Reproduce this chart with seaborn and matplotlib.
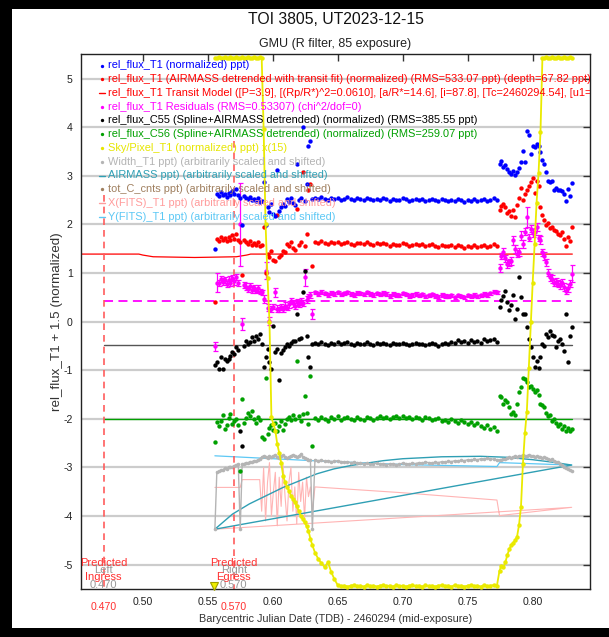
import numpy as np
import pandas as pd
import matplotlib
matplotlib.use("Agg")
import matplotlib.pyplot as plt
import seaborn as sns
from matplotlib.patches import Rectangle

sns.set_theme(style="white")
plt.rcParams['font.family'] = ['Liberation Sans', 'DejaVu Sans']
plt.rcParams['axes.unicode_minus'] = False

# ---------------- data ----------------
t_early = [0.5555, 0.5570, 0.5585, 0.5600, 0.5615, 0.5630, 0.5645, 0.5660, 0.5675, 0.5690,
           0.5705, 0.5720, 0.5735, 0.5750, 0.5765, 0.5780, 0.5795, 0.5810, 0.5825, 0.5840,
           0.5855, 0.5870, 0.5885, 0.5900, 0.5915, 0.5930, 0.5945, 0.5960, 0.5975, 0.5990,
           0.6005, 0.6020, 0.6035, 0.6050, 0.6065, 0.6080, 0.6095, 0.6110, 0.6125, 0.6140,
           0.6155, 0.6170, 0.6185, 0.6200, 0.6215, 0.6230, 0.6245, 0.6260, 0.6275, 0.6290,
           0.6305]
t_flat = [0.6325, 0.6350, 0.6375, 0.6400, 0.6425, 0.6450, 0.6475, 0.6500, 0.6525, 0.6550,
          0.6575, 0.6600, 0.6625, 0.6650, 0.6675, 0.6700, 0.6725, 0.6750, 0.6775, 0.6800,
          0.6825, 0.6850, 0.6875, 0.6900, 0.6925, 0.6950, 0.6975, 0.7000, 0.7025, 0.7050,
          0.7075, 0.7100, 0.7125, 0.7150, 0.7175, 0.7200, 0.7225, 0.7250, 0.7275, 0.7300,
          0.7325, 0.7350, 0.7375, 0.7400, 0.7425, 0.7450, 0.7475, 0.7500, 0.7525, 0.7550,
          0.7575, 0.7600, 0.7625, 0.7650, 0.7675, 0.7700, 0.7725]
t_late = [0.7745, 0.7760, 0.7775, 0.7790, 0.7805, 0.7820, 0.7835, 0.7850, 0.7865, 0.7880,
          0.7895, 0.7910, 0.7925, 0.7940, 0.7955, 0.7970, 0.7985, 0.8000, 0.8015, 0.8030,
          0.8045, 0.8060, 0.8075, 0.8090, 0.8105, 0.8120, 0.8135, 0.8150, 0.8165, 0.8180,
          0.8195, 0.8210, 0.8225, 0.8240, 0.8255, 0.8270, 0.8285, 0.8300]

blue_early = [1.50, 2.62, 2.58, 2.66, 2.60, 2.63, 2.57, 2.64, 2.60, 2.68,
              2.62, 2.73, 2.60, 2.55, 1.98, 2.58, 2.55, 2.52, 2.56, 2.50,
              2.53, 2.49, 2.55, 2.47, 2.49, 2.87, 1.98, 2.35, 2.25, 2.42,
              2.22, 2.18, 3.11, 2.28, 2.35, 2.43, 2.38, 2.52, 2.47, 2.55,
              2.45, 2.40, 3.24, 2.50, 2.55, 4.00, 2.48, 2.83, 3.62, 3.72,
              2.53]
blue_flat = [2.55, 2.52, 2.56, 2.53, 2.50, 2.54, 2.52, 2.55, 2.51, 2.53,
             2.56, 2.52, 2.50, 2.54, 2.53, 2.51, 2.55, 2.52, 2.50, 2.53,
             2.51, 2.54, 2.52, 2.49, 2.53, 2.51, 2.50, 2.54, 2.52, 2.49,
             2.51, 2.53, 2.50, 2.52, 2.49, 2.51, 2.53, 2.50, 2.48, 2.52,
             2.50, 2.49, 2.51, 2.48, 2.52, 2.50, 2.47, 2.51, 2.49, 2.52,
             2.48, 2.50, 2.53, 2.49, 2.51, 2.54, 2.50]
blue_late = [3.25, 3.31, 3.18, 3.23, 3.14, 3.07, 3.04, 3.09, 3.02, 3.07,
             3.17, 3.28, 3.52, 3.28, 3.93, 3.83, 3.45, 3.62, 3.59, 3.66,
             3.62, 3.48, 3.33, 3.24, 3.07, 2.90, 2.87, 2.90, 2.71, 2.75,
             2.70, 2.71, 2.68, 2.63, 2.49, 2.73, 2.59, 2.85]

red_early = [0.41, 1.70, 1.66, 1.75, 1.68, 1.72, 1.65, 1.74, 1.69, 1.78,
             1.71, 1.81, 1.69, 1.64, 0.95, 1.67, 1.63, 1.60, 1.65, 1.58,
             1.62, 1.57, 1.63, 1.55, 1.57, 1.95, 1.01, 1.39, 1.32, 1.46,
             1.26, 1.24, 2.19, 1.32, 1.38, 1.46, 1.43, 1.60, 1.55, 1.63,
             1.52, 1.47, 2.32, 1.58, 1.64, 3.08, 1.56, 1.80, 2.70, 2.83,
             1.15]
red_flat = [1.64, 1.61, 1.65, 1.62, 1.59, 1.63, 1.61, 1.64, 1.60, 1.62,
            1.64, 1.60, 1.58, 1.62, 1.61, 1.59, 1.63, 1.60, 1.58, 1.61,
            1.59, 1.62, 1.60, 1.56, 1.60, 1.58, 1.57, 1.61, 1.59, 1.56,
            1.58, 1.60, 1.57, 1.59, 1.55, 1.57, 1.59, 1.56, 1.54, 1.58,
            1.56, 1.55, 1.57, 1.53, 1.57, 1.55, 1.52, 1.56, 1.54, 1.57,
            1.53, 1.55, 1.58, 1.54, 1.56, 1.60, 1.55]
red_late = [2.30, 2.38, 2.43, 2.35, 2.24, 2.28, 2.18, 2.30, 2.15, 2.40,
            2.55, 2.74, 2.50, 2.62, 2.70, 2.80, 2.87, 2.95, 2.65, 2.90,
            2.80, 2.35, 2.20, 2.10, 1.98, 2.02, 1.92, 1.95, 1.88, 1.87,
            1.80, 1.78, 1.85, 1.70, 1.56, 1.75, 1.66, 1.95]

mag_early = [-0.51, 0.80, 0.80, 0.88, 0.82, 0.85, 0.78, 0.86, 0.80, 0.90,
             0.83, 0.92, 0.79, 2.00, -0.05, 0.76, 0.72, 0.68, 0.74, 0.66,
             0.70, 0.64, 0.69, 0.62, 0.60, 0.47, 1.05, 0.29, 0.02, 0.26,
             0.31, 0.60, 0.27, 0.25, 0.30, 0.26, 0.33, 0.29, 0.36, 0.43,
             0.38, 0.33, 0.40, 0.36, 0.42, 0.38, 0.91, 0.45, 0.50, 0.55,
             0.16]
mag_flat = [0.60, 0.57, 0.61, 0.58, 0.55, 0.59, 0.57, 0.60, 0.56, 0.58,
            0.60, 0.57, 0.55, 0.59, 0.58, 0.56, 0.60, 0.57, 0.55, 0.58,
            0.56, 0.59, 0.57, 0.53, 0.57, 0.55, 0.54, 0.58, 0.56, 0.53,
            0.55, 0.57, 0.54, 0.56, 0.52, 0.54, 0.56, 0.53, 0.51, 0.55,
            0.53, 0.52, 0.54, 0.50, 0.54, 0.52, 0.50, 0.54, 0.52, 0.55,
            0.52, 0.54, 0.57, 0.55, 0.58, 0.62, 0.60]
mag_late = [1.10, 1.35, 1.43, 1.30, 1.19, 1.22, 1.25, 1.67, 1.50, 1.40,
            1.43, 1.77, 1.60, 1.85, 2.15, 1.73, 1.91, 1.82, 1.85, 1.94,
            1.72, 1.68, 1.43, 1.35, 1.22, 1.01, 0.91, 0.88, 0.80, 0.82,
            0.78, 0.76, 0.80, 0.72, 0.64, 0.70, 0.78, 0.99]
mag_err_early = [0.10, 0.20, 0.06, 0.06, 0.07, 0.06, 0.06, 0.07, 0.06, 0.06,
                 0.07, 0.06, 0.06, 0.85, 0.13, 0.06, 0.07, 0.06, 0.06, 0.07,
                 0.06, 0.06, 0.07, 0.06, 0.06, 0.08, 0.17, 0.07, 0.08, 0.07,
                 0.06, 0.10, 0.07, 0.06, 0.07, 0.06, 0.07, 0.06, 0.07, 0.06,
                 0.07, 0.06, 0.07, 0.06, 0.07, 0.06, 0.17, 0.07, 0.06, 0.07,
                 0.10]
mag_err_flat = 0.035
mag_err_late = [0.08, 0.07, 0.08, 0.07, 0.08, 0.07, 0.08, 0.10, 0.08, 0.07,
                0.08, 0.10, 0.08, 0.07, 0.20, 0.08, 0.07, 0.08, 0.07, 0.08,
                0.07, 0.08, 0.07, 0.08, 0.07, 0.08, 0.07, 0.08, 0.07, 0.08,
                0.07, 0.08, 0.07, 0.08, 0.07, 0.08, 0.07, 0.17]

black_early = [-0.90, -0.82, -0.97, -0.73, -0.97, -0.76, -0.80, -0.77, -0.70, -0.63,
               -0.66, -0.53, -0.58, -2.24, -2.55, -0.50, -0.39, -0.46, -0.42, -0.32,
               -0.39, -0.30, -0.35, -0.25, -0.45, -0.94, -0.73, -0.56, -0.84, -0.97,
               -0.08, -0.62, -0.56, -1.21, -0.65, -0.58, -0.53, -0.47, -0.50, -0.44,
               -0.40, -0.39, 0.16, -0.35, -0.33, 0.60, 1.05, -0.29, -0.73, -0.94,
               -0.46]
black_flat = [-0.44, -0.47, -0.42, -0.46, -0.49, -0.43, -0.45, -0.41, -0.47, -0.44,
              -0.42, -0.46, -0.48, -0.43, -0.45, -0.47, -0.42, -0.45, -0.48, -0.44,
              -0.46, -0.43, -0.45, -0.49, -0.44, -0.46, -0.47, -0.43, -0.45, -0.48,
              -0.46, -0.44, -0.47, -0.45, -0.49, -0.46, -0.44, -0.47, -0.50, -0.45,
              -0.43, -0.46, -0.41, -0.44, -0.38, -0.42, -0.40, -0.44, -0.37, -0.41,
              -0.39, -0.43, -0.36, -0.40, -0.38, -0.35, -0.41]
black_late = [0.30, 0.45, 0.53, 0.64, 0.40, 0.23, 0.35, 0.55, 0.06, 0.25,
              0.91, 0.50, 0.16, 0.16, -0.12, -0.35, -0.53, -0.73, -0.94, -0.80,
              -0.95, -0.73, -0.46, -0.50, -0.25, -0.32, -0.20, -0.28, -0.30, -0.53,
              -0.40, -0.35, -0.45, -0.60, 0.16, -0.84, -0.30, -0.12]

green_early = [-2.48, -2.07, -2.15, -2.04, -1.93, -2.21, -2.12, -1.98, -1.90, -2.10,
               -2.05, -2.00, -2.12, -3.07, -1.59, -2.08, -1.98, -1.87, -1.95, -1.83,
               -2.00, -2.08, -1.97, -2.02, -2.38, -2.41, -1.15, -2.31, -2.18, -2.12,
               -2.22, -2.08, -2.25, -2.15, -2.05, -2.22, -2.10, -2.00, -1.96, -2.03,
               -1.93, -2.00, -0.80, -1.95, -2.05, -1.90, -1.52, -1.87, -2.10, -1.11,
               -2.55]
green_flat = [-1.98, -2.02, -1.96, -2.00, -2.04, -1.97, -2.01, -1.95, -2.03, -1.99,
              -1.96, -2.01, -2.03, -1.97, -2.00, -2.02, -1.96, -1.99, -2.03, -1.98,
              -1.95, -1.99, -1.97, -2.01, -1.96, -1.94, -1.98, -1.95, -1.99, -1.97,
              -2.00, -1.96, -1.98, -2.02, -1.97, -1.99, -2.03, -2.00, -1.98, -2.04,
              -2.02, -2.06, -2.01, -2.05, -2.08, -2.03, -2.07, -2.10, -2.06, -2.12,
              -2.09, -2.15, -2.18, -2.13, -2.21, -2.17, -2.24]
green_late = [-1.52, -1.55, -1.69, -1.62, -1.66, -1.76, -1.90, -1.85, -1.92, -1.70,
              -1.45, -1.35, -1.15, -1.18, -1.25, -1.35, -1.32, -1.38, -1.45, -1.40,
              -1.50, -1.69, -1.72, -1.75, -1.87, -1.95, -1.92, -2.04, -2.00, -2.08,
              -2.14, -2.10, -2.21, -2.15, -2.25, -2.18, -2.24, -2.21]

gray_early = [-4.27, -3.10, -3.08, -3.06, -3.05, -3.02, -3.03, -3.00, -2.98, -2.99,
              -2.96, -2.95, -2.93, -4.27, -2.93, -2.92, -2.90, -2.91, -2.88, -2.89,
              -2.86, -2.87, -2.85, -2.82, -2.79, -2.76, -2.78, -2.80, -2.77, -2.79,
              -2.76, -2.74, -2.78, -2.80, -2.77, -2.75, -2.79, -2.81, -2.78, -2.76,
              -2.74, -2.77, -2.79, -2.76, -2.73, -2.78, -2.80, -2.83, -2.85, -2.84,
              -4.27]
gray_flat = [-2.84, -2.86, -2.85, -2.87, -2.86, -2.88, -2.87, -2.86, -2.88, -2.89,
             -2.88, -2.90, -2.89, -2.91, -2.90, -2.92, -2.91, -2.93, -2.92, -2.91,
             -2.93, -2.92, -2.94, -2.93, -2.92, -2.94, -2.93, -2.91, -2.92, -2.93,
             -2.91, -2.92, -2.90, -2.91, -2.89, -2.90, -2.91, -2.89, -2.90, -2.88,
             -2.89, -2.87, -2.88, -2.86, -2.87, -2.85, -2.86, -2.84, -2.85, -2.83,
             -2.84, -2.82, -2.83, -2.81, -2.82, -2.83, -2.84]
gray_late = [-2.85, -2.84, -2.82, -2.83, -2.80, -2.79, -2.80, -2.78, -2.77, -2.79,
             -2.76, -2.77, -2.75, -2.77, -2.76, -2.74, -2.77, -2.76, -2.78, -2.77,
             -2.79, -2.78, -2.80, -2.79, -2.81, -2.82, -2.84, -2.83, -2.86, -2.88,
             -2.89, -2.92, -2.95, -2.98, -3.02, -3.04, -3.06, -3.07]

sky_early = [5.43, 5.42, 5.44, 5.43, 5.42, 5.44, 5.43, 5.42, 5.44, 5.43,
             5.42, 5.44, 5.43, 5.42, 5.44, 5.43, 5.42, 5.44, 5.43, 5.42,
             5.44, 5.43, 5.42, 5.44, 5.43, 3.97, 2.00, 0.90, 0.00, -1.97,
             -2.10, -2.24, -2.52, -2.70, -2.90, -3.17, -3.30, -3.41, -3.48, -3.58,
             -3.65, -3.72, -3.80, -3.89, -3.99, -4.06, -4.13, -4.20, -4.30, -4.47,
             -4.60]
sky_flat = [-4.75, -4.88, -4.97, -5.05, -4.95, -5.15, -5.30, -5.42, -5.44, -5.43,
            -5.45, -5.43, -5.42, -5.44, -5.43, -5.45, -5.42, -5.44, -5.43, -5.45,
            -5.43, -5.42, -5.44, -5.43, -5.45, -5.42, -5.44, -5.43, -5.45, -5.43,
            -5.42, -5.44, -5.43, -5.45, -5.42, -5.44, -5.43, -5.45, -5.43, -5.42,
            -5.44, -5.43, -5.45, -5.42, -5.44, -5.43, -5.45, -5.43, -5.42, -5.44,
            -5.43, -5.45, -5.42, -5.44, -5.43, -5.42, -5.43]
sky_late = [-5.12, -5.02, -5.05, -4.95, -4.80, -4.68, -4.60, -4.55, -4.50, -4.42,
            -4.18, -3.81, -2.92, -2.30, -1.85, -0.95, 0.00, 0.80, 1.60, 2.45,
            3.05, 3.90, 5.43, 5.42, 5.44, 5.43, 5.42, 5.44, 5.43, 5.42,
            5.44, 5.43, 5.42, 5.44, 5.43, 5.42, 5.44, 5.43]

airmass_t = [0.5555, 0.569, 0.582, 0.595, 0.608, 0.621, 0.634, 0.647, 0.660, 0.685,
             0.700, 0.730, 0.760, 0.780, 0.800, 0.815, 0.830, 0.5555]
airmass_v = [-4.27, -3.96, -3.75, -3.58, -3.41, -3.27, -3.13, -3.03, -2.96, -2.86,
             -2.82, -2.78, -2.77, -2.79, -2.84, -2.89, -2.95, -4.27]

xfits_t = [0.5555, 0.5750, 0.5765, 0.5900, 0.5915, 0.5930, 0.5945, 0.5960, 0.5975, 0.5990,
           0.6005, 0.6020, 0.6035, 0.6050, 0.6065, 0.6080, 0.6095, 0.6110, 0.6125, 0.6140,
           0.6155, 0.6170, 0.6185, 0.6200, 0.6215, 0.6230, 0.6245, 0.6260, 0.6275, 0.6290,
           0.6305, 0.6325, 0.7000, 0.7725, 0.7745, 0.8300, 0.5555]
xfits_v = [-3.41, -3.41, -3.25, -3.25, -3.90, -3.00, -4.10, -3.30, -2.90, -4.00,
           -3.50, -3.10, -4.20, -3.20, -3.80, -2.95, -3.60, -4.10, -3.30, -3.00,
           -3.90, -3.40, -4.15, -3.10, -3.70, -3.30, -4.05, -3.20, -3.60, -3.40,
           -3.90, -3.40, -3.52, -3.67, -3.99, -3.82, -4.27]

yfits_t = [0.5555, 0.6305, 0.7000, 0.7725, 0.7745, 0.8300]
yfits_v = [-2.76, -2.86, -2.94, -2.98, -2.90, -2.95]

model_t = [0.4525, 0.4970, 0.5000, 0.5080, 0.5400, 0.5720, 0.5800, 0.5830, 0.8305]
model_v = [1.39, 1.39, 1.37, 1.335, 1.32, 1.335, 1.37, 1.39, 1.39]

base_t = [0.470, 0.8305]
resid_base = [0.42, 0.42]
c55_base = [-0.49, -0.49]
c56_base = [-2.00, -2.00]

pred_x = [0.470, 0.570]
pred_top = [2.60, 3.72]
pred_side = ["Left", "Right"]
pred_kind = ["Ingress", "Egress"]
pred_text = ["0.470", "0.570"]

xticks = [0.50, 0.55, 0.60, 0.65, 0.70, 0.75, 0.80]
xtick_labels = ["0.50", "0.55", "0.60", "0.65", "0.70", "0.75", "0.80"]
yticks = [5, 4, 3, 2, 1, 0, -1, -2, -3, -4, -5]
ytick_labels = ["5", "4", "3", "2", "1", "0", "-1", "-2", "-3", "-4", "-5"]

legend_labels = [
    "rel_flux_T1 (normalized) ppt)",
    "rel_flux_T1 (AIRMASS detrended with transit fit) (normalized) (RMS=533.07 ppt) (depth=67.82 ppt) (BIC=",
    "rel_flux_T1 Transit Model ([P=3.9], [(Rp/R*)^2=0.0610], [a/R*=14.6], [i=87.8], [Tc=2460294.54], [u1=0.46]",
    "rel_flux_T1 Residuals (RMS=0.53307) (chi^2/dof=0)",
    "rel_flux_C55 (Spline+AIRMASS detrended) (normalized) (RMS=385.55 ppt)",
    "rel_flux_C56 (Spline+AIRMASS detrended) (normalized) (RMS=259.07 ppt)",
    "Sky/Pixel_T1 (normalized) ppt) x(15)",
    "Width_T1 ppt) (arbitrarily scaled and shifted)",
    "AIRMASS ppt) (arbitrarily scaled and shifted)",
    "tot_C_cnts ppt) (arbitrarily scaled and shifted)",
    "X(FITS)_T1 ppt) (arbitrarily scaled and shifted)",
    "Y(FITS)_T1 ppt) (arbitrarily scaled and shifted)",
]
legend_colors = ["#0000ff", "#ff0000", "#ff0000", "#ff00ff", "#000000", "#00a000",
                 "#e6e600", "#b4b4b4", "#2f9fb4", "#a08060", "#ff9c9c", "#5cc8f5"]
legend_kinds = ["dot", "dot", "line", "dot", "dot", "dot", "dot", "dot", "line", "dot", "line", "line"]

# ---------------- figure ----------------
W, H = 609, 637
fig = plt.figure(figsize=(W / 100, H / 100), dpi=100)
fig.patch.set_facecolor("black")
fig.add_artist(Rectangle((12 / W, 9 / H), 1 - 12 / W, 1 - 18 / H, transform=fig.transFigure,
                         facecolor="white", edgecolor="none", zorder=-5))
ax_l, ax_r, ax_t, ax_b = 81, 590, 54.3, 589
ax = fig.add_axes([ax_l / W, 1 - ax_b / H, (ax_r - ax_l) / W, (ax_b - ax_t) / H])
ax.set_facecolor("white")

t_all = t_early + t_flat + t_late
df = pd.DataFrame({
    "t": t_all,
    "blue": blue_early + blue_flat + blue_late,
    "red": red_early + red_flat + red_late,
    "mag": mag_early + mag_flat + mag_late,
    "black": black_early + black_flat + black_late,
    "green": green_early + green_flat + green_late,
    "gray": gray_early + gray_flat + gray_late,
    "sky": sky_early + sky_flat + sky_late,
})
mag_err = mag_err_early + [mag_err_flat] * len(t_flat) + mag_err_late

# lines in the lower part
sns.lineplot(x=xfits_t, y=xfits_v, sort=False, estimator=None, color="#ffb4b4", lw=0.8, ax=ax, legend=False)
sns.lineplot(x=yfits_t, y=yfits_v, sort=False, estimator=None, color="#5cc8f5", lw=0.9, ax=ax, legend=False)
sns.lineplot(x=airmass_t, y=airmass_v, sort=False, estimator=None, color="#2f9fb4", lw=1.0, ax=ax, legend=False)
sns.lineplot(data=df, x="t", y="gray", sort=False, estimator=None, color="#b4b4b4", lw=1.0,
             marker="o", markersize=2.6, markeredgewidth=0, ax=ax, legend=False)

# baselines / model
sns.lineplot(x=model_t, y=model_v, sort=False, estimator=None, color="#ff0000", lw=0.9, ax=ax, legend=False)
sns.lineplot(x=base_t, y=resid_base, sort=False, estimator=None, color="#ff00ff", lw=1.3,
             linestyle=(0, (5, 3)), ax=ax, legend=False)
sns.lineplot(x=base_t, y=c55_base, sort=False, estimator=None, color="#555555", lw=1.0, ax=ax, legend=False)
sns.lineplot(x=base_t, y=c56_base, sort=False, estimator=None, color="#00a000", lw=1.0, ax=ax, legend=False)

# predicted ingress / egress markers
for px, top in zip(pred_x, pred_top):
    ax.plot([px, px], [top, -5.5], color="#ff5c5c", lw=1.2, linestyle=(0, (4, 3)), zorder=2)

# scatter series
ax.errorbar(df["t"], df["mag"], yerr=mag_err, fmt="none", ecolor="#ff00ff", elinewidth=0.9,
            capsize=1.8, capthick=0.9, zorder=3)
for col, c in [("green", "#00a000"), ("black", "#000000"), ("mag", "#ff00ff"),
               ("red", "#ff0000"), ("blue", "#0000ff")]:
    sns.scatterplot(data=df, x="t", y=col, color=c, s=10, linewidth=0, ax=ax, legend=False, zorder=4)

# sky
sns.lineplot(data=df, x="t", y="sky", sort=False, estimator=None, color="#eaea00", lw=1.3,
             marker="o", markersize=3.2, markeredgewidth=0, ax=ax, legend=False, zorder=5)
ax.plot([0.5545], [-5.43], marker="v", ms=6, mfc="#f0f000", mec="#a0a000", mew=0.8, zorder=6, clip_on=False)

# axes cosmetics
ax.set_xlim(0.4525, 0.8441)
ax.set_ylim(-5.5, 5.5)
ax.set_xticks(xticks)
ax.set_xticklabels(xtick_labels)
ax.set_yticks(yticks)
ax.set_yticklabels(ytick_labels)
ax.yaxis.grid(True, color="#cccccc", lw=1.6)
ax.xaxis.grid(False)
ax.set_axisbelow(True)
for s in ax.spines.values():
    s.set_color("#222222")
    s.set_linewidth(1.0)
ax.tick_params(axis="both", direction="in", length=5, width=1, color="#333333",
               top=True, right=True, labelsize=7.6, labelcolor="#222222", pad=6)
ax.set_xlabel("Barycentric Julian Date (TDB) - 2460294 (mid-exposure)", fontsize=7.8, color="#333333")
ax.set_ylabel("rel_flux_T1 + 1.5 (normalized)", fontsize=9.6, color="#333333")
ax.xaxis.set_label_coords(0.5, -0.047)
ax.yaxis.set_label_coords(-0.035, 0.5)

# predicted labels
for px, side, kind, txt in zip(pred_x, pred_side, pred_kind, pred_text):
    ax.text(px, -5.11, side, color="#999999", fontsize=8, ha="center", va="center", zorder=7)
    ax.text(px, -5.42, txt, color="#999999", fontsize=8, ha="center", va="center", zorder=7)
    ax.text(px, -4.97, "Predicted", color="#ff3030", fontsize=8, ha="center", va="center", zorder=8)
    ax.text(px, -5.26, kind, color="#ff3030", fontsize=8, ha="center", va="center", zorder=8)
    ax.text(px, -0.033, txt, color="#ff3030", fontsize=7.6, ha="center", va="center",
            transform=ax.get_xaxis_transform(), clip_on=False)

# legend rows
axh = ax_b - ax_t
for i, (lab, c, kind) in enumerate(zip(legend_labels, legend_colors, legend_kinds)):
    ypx = 65.5 + 13.75 * i
    yf = 1 - (ypx - ax_t) / axh
    mx = (101.7 - ax_l) / (ax_r - ax_l)
    tx = (108.3 - ax_l) / (ax_r - ax_l)
    if kind == "dot":
        ax.plot([mx], [yf], marker="o", ms=2.4, color=c, mew=0, transform=ax.transAxes, zorder=9)
    else:
        ax.plot([mx - 0.006, mx + 0.006], [yf, yf], color=c, lw=1.0, transform=ax.transAxes, zorder=9)
    t = ax.text(tx, yf, lab, color=c, fontsize=7.9, ha="left", va="center",
                transform=ax.transAxes, clip_on=True, zorder=9)
    t.set_clip_box(ax.bbox)

# titles
cx = (ax_l + ax_r) / 2 / W
fig.text(cx, 1 - 19 / H, "TOI 3805, UT2023-12-15", fontsize=11.3, ha="center", va="center", color="#111111")
fig.text(cx, 1 - 44 / H, "GMU (R filter, 85 exposure)", fontsize=9.0, ha="center", va="center", color="#222222")

fig.savefig("out.png", dpi=100, facecolor=fig.get_facecolor())
